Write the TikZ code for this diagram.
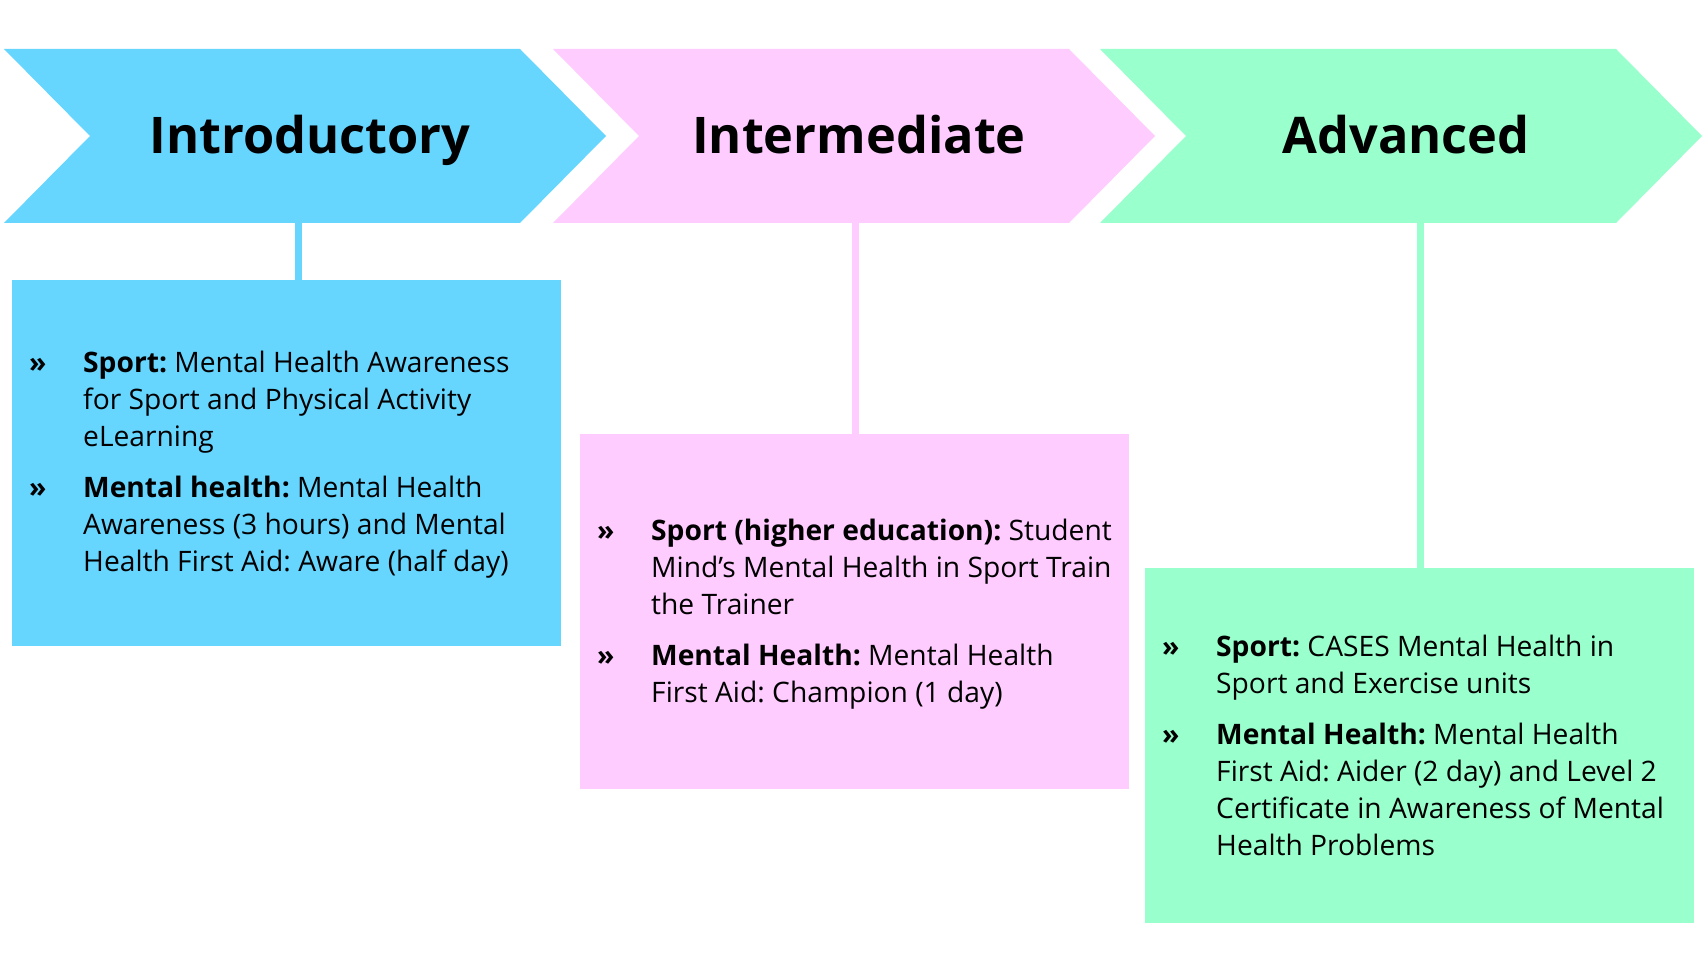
\documentclass[tikz,border=0pt]{standalone}
\usepackage{fontspec}
\setmainfont{Open Sans}
\definecolor{cblue}{HTML}{66D6FF}
\definecolor{cpink}{HTML}{FFCCFF}
\definecolor{cgreen}{HTML}{99FFCC}
\newcommand{\bulitem}{\makebox[54pt][l]{\bfseries »}}
\newenvironment{itemblock}{\begin{minipage}{530pt}\frenchspacing\setlength{\parindent}{0pt}\fontsize{28.2}{37}\selectfont}{\end{minipage}}
\begin{document}
\begin{tikzpicture}[x=1pt,y=-1pt,
  chev/.style={fill=#1,draw=none},
  title/.style={font=\fontsize{50.5}{60}\selectfont\bfseries,text=black,inner sep=0pt,anchor=base},
  infobox/.style={fill=#1,draw=none,minimum width=549pt,anchor=north west,inner sep=0pt},
  infotext/.style={anchor=west,inner sep=0pt},
  conn/.style={draw=#1,line width=7pt}]
\useasboundingbox (0,0) rectangle (1706,960);
% chevrons
\foreach \L/\c in {4/cblue,553/cpink,1100/cgreen}{
  \fill[chev=\c] (\L,49) -- (\L+516,49) -- (\L+602,136) -- (\L+516,223) -- (\L,223) -- (\L+86,136) -- cycle;
}
\node[title] (h1) at (310,154) {Introductory};
\node[title] (h2) at (859,154) {Intermediate};
\node[title] (h3) at (1406,154) {Advanced};
% boxes
\node[infobox=cblue,minimum height=366pt] (b1) at (12,280) {};
\node[infobox=cpink,minimum height=355pt] (b2) at (580,434) {};
\node[infobox=cgreen,minimum height=355pt] (b3) at (1145,568) {};
% connectors
\coordinate (t1) at (298,223);
\coordinate (t2) at (855,223);
\coordinate (t3) at (1420,223);
\draw[conn=cblue] (t1) -- (t1 |- b1.north);
\draw[conn=cpink] (t2) -- (t2 |- b2.north);
\draw[conn=cgreen] (t3) -- (t3 |- b3.north);
% texts
\node[infotext] (x1) at ([xshift=17pt,yshift=-1.5pt]b1.west) {\begin{itemblock}%
\hangindent=54pt\hangafter=1\bulitem\textbf{Sport:} Mental Health Awareness\\for Sport and Physical Activity\\eLearning\par
\vspace{14pt}
\hangindent=54pt\hangafter=1\bulitem\textbf{Mental health:} Mental Health\\Awareness (3 hours) and Mental\\Health First Aid: Aware (half day)\par
\end{itemblock}};
\node[infotext] (x2) at ([xshift=17pt,yshift=-2.5pt]b2.west) {\begin{itemblock}%
\hangindent=54pt\hangafter=1\bulitem\textbf{Sport (higher education):} Student\\Mind’s Mental Health in Sport Train\\the Trainer\par
\vspace{14pt}
\hangindent=54pt\hangafter=1\bulitem\textbf{Mental Health:} Mental Health\\First Aid: Champion (1 day)\par
\end{itemblock}};
\node[infotext] (x3) at ([xshift=17pt]b3.west) {\begin{itemblock}%
\hangindent=54pt\hangafter=1\bulitem\textbf{Sport:} CASES Mental Health in\\Sport and Exercise units\par
\vspace{14pt}
\hangindent=54pt\hangafter=1\bulitem\textbf{Mental Health:} Mental Health\\First Aid: Aider (2 day) and Level 2\\Certificate in Awareness of Mental\\Health Problems\par
\end{itemblock}};
\end{tikzpicture}
\end{document}
